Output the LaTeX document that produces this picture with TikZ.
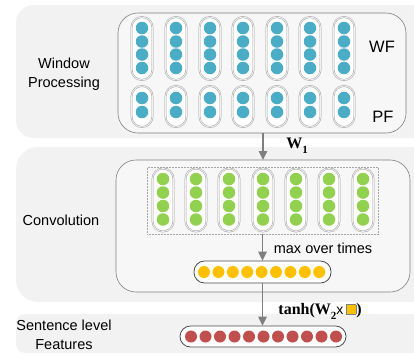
\documentclass[tikz,border=0pt]{standalone}
\usepackage{fontspec}
\setmainfont{Liberation Serif}
\setsansfont{Liberation Sans}
\usetikzlibrary{arrows.meta}
\definecolor{panelgray}{HTML}{F2F2F2}
\definecolor{innerfill}{HTML}{F7F7F7}
\definecolor{dotblue}{HTML}{4BACC6}
\definecolor{dotgreen}{HTML}{92D050}
\definecolor{dotyellow}{HTML}{FFC000}
\definecolor{dotred}{HTML}{C0504D}
\definecolor{linegray}{HTML}{7F7F7F}
\newcommand{\lowsub}[1]{\raisebox{-5pt}{\fontsize{11}{12}\selectfont #1}}
\begin{document}
\begin{tikzpicture}[x=1pt,y=-1pt,
  panel/.style={fill=panelgray, draw=none},
  innerbox/.style={draw=linegray, fill=innerfill, line width=0.6pt, rounded corners=20pt, inner sep=0pt},
  capsule/.style={draw=gray!75, double=gray!12, double distance=0.9pt, line width=0.45pt, fill=white,
                  rounded corners=10.5pt, minimum width=21pt, inner sep=0pt},
  flatcap/.style={draw=black!70, line width=0.8pt, fill=white, rounded corners=10.5pt, inner sep=0pt},
  dot/.style={circle, minimum size=12.5pt, inner sep=0pt, draw=none},
  lbl/.style={font=\sffamily\fontsize{14.5}{17.5}\selectfont, align=center, inner sep=0pt},
  arr/.style={draw=linegray, line width=1.4pt, -{Triangle[length=9pt,width=8.5pt]}},
  dashbox/.style={draw=gray!70, densely dotted, line width=0.5pt, inner sep=0pt}
]
\useasboundingbox (0,0) rectangle (414,354);
% panels
\fill[panel, rounded corners=18pt] (16,5) rectangle (440,138);
\fill[panel, rounded corners=22pt] (16,147) rectangle (440,302);
\fill[panel, rounded corners=9pt] (16,314) rectangle (440,353);
% inner boxes
\node[innerbox, minimum width=288pt, minimum height=120pt] (in1) at (262,73) {};
\node[innerbox, minimum width=294pt, minimum height=132pt] (in2) at (263,226) {};
% WF and PF capsules
\foreach \x [count=\i] in {142,176,210,243,277,310,344} {
  \node[capsule, minimum height=63pt] (wf\i) at (\x,48.5) {};
  \foreach \y [count=\j] in {28,41.5,54.5,68}
    \node[dot, fill=dotblue] (wf\i-\j) at (\x,\y) {};
  \node[capsule, minimum height=41pt] (pf\i) at (\x,106.5) {};
  \foreach \y [count=\j] in {98,112}
    \node[dot, fill=dotblue] (pf\i-\j) at (\x,\y) {};
}
% dotted box and green capsules
\node[dashbox, minimum width=231pt, minimum height=67pt] (dbox) at (262.5,200.5) {};
\foreach \x [count=\i] in {163,196,229,263,296,329,363} {
  \node[capsule, minimum height=63pt] (cv\i) at (\x,200) {};
  \foreach \y [count=\j] in {179,192.5,206,219.5}
    \node[dot, fill=dotgreen] (cv\i-\j) at (\x,\y) {};
}
% yellow capsule
\node[flatcap, minimum width=137pt, minimum height=22pt] (ycap) at (262.5,272) {};
\foreach \k in {0,...,8}
  \node[dot, fill=dotyellow, minimum size=12pt] (y\k) at (204+14.4*\k,272) {};
% red capsule
\node[flatcap, minimum width=166pt, minimum height=21pt] (rcap) at (263,336.5) {};
\foreach \k in {0,...,10}
  \node[dot, fill=dotred, minimum size=12pt] (r\k) at (191+14.5*\k,336.5) {};
% arrows
\draw[arr] (263,133) -- (263,160);
\draw[arr] (dbox.south -| ycap.north) -- (ycap.north);
\draw[arr] (ycap.south) -- (ycap.south |- rcap.north);
% labels
\node[lbl] (wp) at (64,74) {Window\\[1pt]Processing};
\node[lbl, font=\sffamily\fontsize{16.5}{19}\selectfont] (wf) at (382,47) {WF};
\node[lbl, font=\sffamily\fontsize{16.5}{19}\selectfont] (pf) at (383,117) {PF};
\node[lbl] (conv) at (61,220) {Convolution};
\node[lbl] (mot) at (323,248) {max over times};
\node[lbl] (slf) at (64,335) {Sentence level\\[1pt]Features};
\node[inner sep=0pt, font=\bfseries\fontsize{16}{18}\selectfont] (w1) at (297,146) {W\lowsub{1}};
\node[inner sep=0pt, font=\bfseries\fontsize{16}{18}\selectfont] (tanh) at (320,311)
  {tanh(W\lowsub{2}{\sffamily\mdseries\fontsize{14}{16}\selectfont x}\,{\setlength\fboxsep{0pt}\setlength\fboxrule{0.6pt}\fcolorbox{linegray}{dotyellow}{\rule{0pt}{9pt}\hspace{9pt}}})};
\end{tikzpicture}
\end{document}
